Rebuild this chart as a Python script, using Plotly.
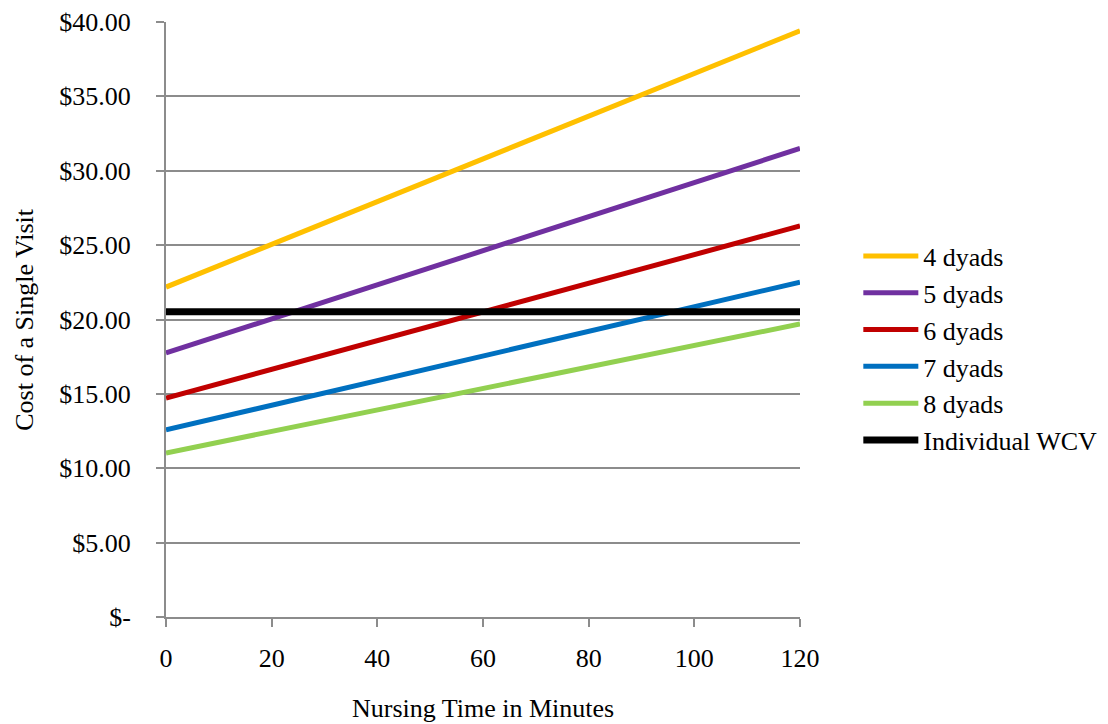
import plotly.graph_objects as go

minutes = [0, 120]
series_names = ["4 dyads", "5 dyads", "6 dyads", "7 dyads", "8 dyads", "Individual WCV"]
dyads4 = [22.18, 39.41]
dyads5 = [17.75, 31.50]
dyads6 = [14.72, 26.29]
dyads7 = [12.58, 22.51]
dyads8 = [11.03, 19.70]
individual_wcv = [20.52, 20.52]
series_values = [dyads4, dyads5, dyads6, dyads7, dyads8, individual_wcv]
colors = ["#FFC000", "#7030A0", "#C00000", "#0070C0", "#92D050", "#000000"]
widths = [5, 5, 5, 5, 5, 7]

y_tickvals = [0, 5, 10, 15, 20, 25, 30, 35, 40]
y_ticktext = ["$-", "$5.00", "$10.00", "$15.00", "$20.00", "$25.00", "$30.00", "$35.00", "$40.00"]
x_tickvals = [0, 20, 40, 60, 80, 100, 120]
x_title = "Nursing Time in Minutes"
y_title = "Cost of a Single Visit"

fig = go.Figure()
for name, vals, c, w in zip(series_names, series_values, colors, widths):
    fig.add_trace(go.Scatter(x=minutes, y=vals, mode="lines", name=name,
                             line=dict(color=c, width=w), cliponaxis=False))

font = "Liberation Serif, Times New Roman, serif"
FS = 26
fig.update_layout(
    width=1108, height=724,
    paper_bgcolor="white", plot_bgcolor="white",
    margin=dict(l=158, r=316, t=14, b=115),
    font=dict(family=font, size=FS, color="black"),
    showlegend=True,
    legend=dict(x=1.092, xanchor="left", y=0.452, yanchor="middle",
                font=dict(family=font, size=FS, color="black"),
                bgcolor="rgba(0,0,0,0)", itemwidth=55, tracegroupgap=0),
    xaxis=dict(range=[0, 120], tickvals=x_tickvals, showgrid=False, automargin=False,
               showline=True, linecolor="#8c8c8c", linewidth=2,
               ticks="outside", ticklen=8, tickcolor="#8c8c8c", tickwidth=2,
               tickfont=dict(size=FS), zeroline=False, ticklabelstandoff=9,
               ticklabeloverflow="allow"),
    yaxis=dict(range=[0, 40], tickvals=y_tickvals, ticktext=y_ticktext, automargin=False,
               showgrid=True, gridcolor="#8c8c8c", gridwidth=2,
               showline=True, linecolor="#8c8c8c", linewidth=2,
               ticks="outside", ticklen=8, tickcolor="#8c8c8c", tickwidth=2,
               tickfont=dict(size=FS), zeroline=False, ticklabelstandoff=20,
               ticklabeloverflow="allow"),
    annotations=[
        dict(text=x_title, xref="paper", yref="paper", x=0.5, y=-0.1546,
             xanchor="center", yanchor="middle", showarrow=False, font=dict(size=FS)),
        dict(text=y_title, xref="paper", yref="paper", x=-0.2235, y=0.5,
             xanchor="center", yanchor="middle", textangle=-90, showarrow=False,
             font=dict(size=FS)),
    ],
)

fig.write_html("out.html")
